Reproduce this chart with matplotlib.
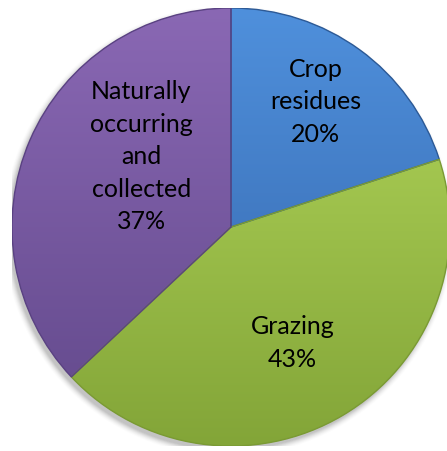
import matplotlib.pyplot as plt
import numpy as np
from matplotlib.colors import LinearSegmentedColormap
from matplotlib.patches import PathPatch

# Shares of feed sources
sources = ["Crop\nresidues", "Grazing", "Naturally\noccurring\nand\ncollected"]
shares = [20, 43, 37]

# top / bottom shades for each wedge
top_colours = ["#4f90dc", "#b4d85c", "#8a68b4"]
bottom_colours = ["#3363a8", "#83a538", "#61488a"]
edge_colours = ["#2d5a96", "#7a9a34", "#5a4282"]

# label anchor (radius fraction, angle in degrees)
label_spots = [(0.69, 56), (0.60, -62), (0.52, 142)]

fig = plt.figure(figsize=(4.47, 4.51), dpi=100)
ax = fig.add_axes([12 / 447, 5 / 451, 438 / 447, 438 / 451])
ax.axis("off")

# soft drop shadow under the pie
for i, a in enumerate(np.linspace(0.05, 0.012, 8)):
    shadow = plt.Circle((-0.012, -0.018), 1.0 + i * 0.004, color="black",
                        alpha=a, lw=0, zorder=0)
    ax.add_patch(shadow)

wedges, _ = ax.pie(
    shares,
    startangle=90,
    counterclock=False,
    radius=1.0,
    colors=top_colours,
    wedgeprops=dict(linewidth=0),
)

grad = np.linspace(0, 1, 256).reshape(-1, 1)
for w, top, bottom, edge in zip(wedges, top_colours, bottom_colours, edge_colours):
    cmap = LinearSegmentedColormap.from_list("shade", [top, bottom])
    img = ax.imshow(grad, cmap=cmap, extent=(-1, 1, -1, 1), origin="upper",
                    aspect="auto", zorder=1.5, interpolation="bilinear")
    img.set_clip_path(w)
    w.set_zorder(1)
    # outline drawn on top of the shading
    outline = PathPatch(w.get_path(), fill=False, edgecolor=edge, lw=1.0,
                        zorder=2, transform=w.get_transform())
    ax.add_patch(outline)

for name, share, (r, ang) in zip(sources, shares, label_spots):
    x = r * np.cos(np.radians(ang))
    y = r * np.sin(np.radians(ang))
    ax.text(x, y, f"{name}\n{share}%", ha="center", va="center",
            fontsize=18, family="Lato", color="black", linespacing=1.5,
            zorder=3)

ax.set_xlim(-1, 1)
ax.set_ylim(-1, 1)
ax.set_aspect("equal")

fig.savefig("out.png", dpi=100)
